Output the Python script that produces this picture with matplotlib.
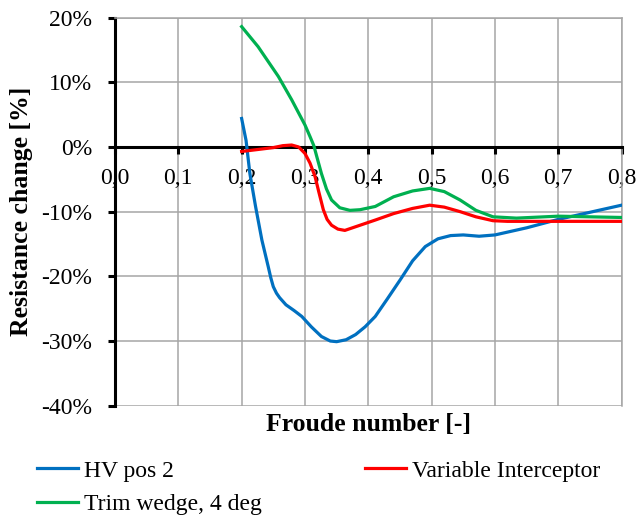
import matplotlib
matplotlib.use("Agg")
import matplotlib.pyplot as plt
from matplotlib.ticker import FuncFormatter

# values (Froude number vs resistance change in %)
hv_fn = [0.200, 0.207, 0.213, 0.222, 0.232, 0.242, 0.246, 0.250, 0.255, 0.260, 0.270, 0.283,
         0.295, 0.310, 0.326, 0.340, 0.350, 0.365, 0.380, 0.395, 0.411, 0.430, 0.450, 0.470,
         0.490, 0.510, 0.530, 0.550, 0.575, 0.600, 0.650, 0.700, 0.750, 0.800]
hv_res = [4.4, 1.0, -4.1, -9.2, -14.4, -18.5, -20.2, -21.6, -22.6, -23.3, -24.4, -25.3,
          -26.2, -27.8, -29.3, -30.0, -30.1, -29.8, -29.0, -27.8, -26.2, -23.5, -20.6, -17.6,
          -15.4, -14.2, -13.7, -13.6, -13.8, -13.6, -12.5, -11.2, -10.1, -9.0]

vi_fn = [0.200, 0.225, 0.250, 0.265, 0.279, 0.290, 0.300, 0.308, 0.316, 0.322, 0.329,
         0.335, 0.342, 0.352, 0.363, 0.375, 0.387, 0.411, 0.440, 0.470, 0.497, 0.520,
         0.545, 0.570, 0.597, 0.620, 0.650, 0.700, 0.750, 0.800]
vi_res = [-0.7, -0.4, -0.1, 0.2, 0.3, 0.0, -1.0, -2.5, -4.6, -7.0, -9.7,
          -11.2, -12.1, -12.7, -12.9, -12.5, -12.1, -11.3, -10.3, -9.5, -9.0, -9.3,
          -10.0, -10.8, -11.4, -11.5, -11.5, -11.5, -11.5, -11.5]

tw_fn = [0.200, 0.226, 0.258, 0.279, 0.300, 0.308, 0.314, 0.319, 0.326, 0.334, 0.342,
         0.355, 0.371, 0.387, 0.411, 0.440, 0.470, 0.497, 0.520, 0.545, 0.570, 0.597,
         0.634, 0.700, 0.750, 0.800]
tw_res = [18.6, 15.5, 10.9, 7.3, 3.4, 1.6, 0.2, -1.6, -4.1, -6.5, -8.2,
          -9.4, -9.8, -9.7, -9.2, -7.7, -6.8, -6.4, -6.9, -8.2, -9.8, -10.8,
          -11.0, -10.7, -10.8, -10.9]

x_ticks = [0.0, 0.1, 0.2, 0.3, 0.4, 0.5, 0.6, 0.7, 0.8]
y_ticks = [-40, -30, -20, -10, 0, 10, 20]

plt.rcParams['font.family'] = ['Liberation Serif', 'DejaVu Serif']

fig = plt.figure(figsize=(6.37, 5.28), dpi=100)
ax = fig.add_axes([0.1805, 0.2316, 0.7953, 0.7351])

l_hv, = ax.plot(hv_fn, hv_res, color='#0070C0', lw=2.3, label='HV pos 2', zorder=3)
l_vi, = ax.plot(vi_fn, vi_res, color='#FF0000', lw=2.3, label='Variable Interceptor', zorder=3)
l_tw, = ax.plot(tw_fn, tw_res, color='#00B050', lw=2.3, label='Trim wedge, 4 deg', zorder=3)

ax.set_xlim(0, 0.8)
ax.set_ylim(-40, 20)
ax.set_xticks(x_ticks)
ax.set_yticks(y_ticks)
ax.xaxis.set_major_formatter(FuncFormatter(lambda v, p: ('%.1f' % v).replace('.', ',')))
ax.yaxis.set_major_formatter(FuncFormatter(lambda v, p: '%d%%' % round(v)))

ax.grid(True, color='#A6A6A6', lw=1.1)
ax.set_axisbelow(True)

# x axis runs through 0 %, grey frame elsewhere
ax.spines['bottom'].set_position(('data', 0))
ax.spines['bottom'].set_linewidth(2.2)
ax.spines['bottom'].set_zorder(2.5)
ax.spines['left'].set_linewidth(2.2)
for s in ['top', 'right']:
    ax.spines[s].set_color('#A6A6A6')
    ax.spines[s].set_linewidth(1.1)

ax.tick_params(axis='x', direction='out', length=5, width=2.2, pad=10, labelsize=17)
ax.tick_params(axis='y', direction='out', length=5, width=2.2, pad=11.5, labelsize=17)

fig.text(368 / 637, 1 - 425 / 528, 'Froude number [-]', ha='center', va='center',
         fontsize=18.5, fontweight='bold')
fig.text(22 / 637, 1 - 211.6 / 528, 'Resistance change [%]', ha='center', va='center',
         rotation=90, fontsize=18.5, fontweight='bold')

fig.legend(handles=[l_hv, l_tw, l_vi], ncol=2, loc='upper left',
           bbox_to_anchor=(36.6 / 637, 1 - 460 / 528), frameon=False, fontsize=17,
           borderpad=0, borderaxespad=0, handlelength=1.74, handletextpad=0.25,
           columnspacing=4.4, labelspacing=0.5)

fig.savefig('out.png', dpi=100)
